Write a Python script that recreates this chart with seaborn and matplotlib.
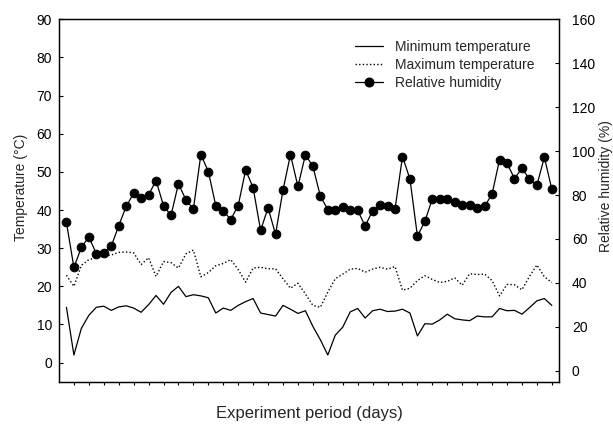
import numpy as np
import pandas as pd
import matplotlib
matplotlib.use("Agg")
import matplotlib.pyplot as plt
import seaborn as sns
from matplotlib.lines import Line2D

days = list(range(1, 67))

min_temp = [14.5, 2.0, 9.0, 12.4, 14.5, 14.8, 13.7, 14.6, 14.9, 14.3,
            13.2, 15.2, 17.6, 15.3, 18.4, 20.0, 17.3, 17.8, 17.5, 17.0,
            13.0, 14.3, 13.7, 15.0, 16.0, 16.8, 13.0, 12.6, 12.2, 15.0,
            14.0, 12.9, 13.6, 9.5, 6.0, 2.0, 7.2, 9.3, 13.3, 14.2,
            11.7, 13.6, 14.0, 13.4, 13.5, 14.0, 13.0, 7.0, 10.2, 10.1,
            11.2, 12.7, 11.5, 11.2, 11.0, 12.2, 12.0, 12.0, 14.2, 13.6,
            13.7, 12.7, 14.4, 16.2, 16.8, 15.0]

max_temp = [22.9, 20.0, 25.5, 27.0, 27.5, 27.9, 28.2, 28.9, 29.0, 28.8,
            25.7, 27.5, 22.6, 26.5, 26.2, 24.8, 28.5, 29.5, 22.5, 23.6,
            25.4, 26.0, 27.0, 24.4, 21.1, 24.8, 25.0, 24.6, 24.6, 22.0,
            19.5, 20.8, 18.0, 15.0, 14.5, 18.5, 22.0, 23.2, 24.5, 24.7,
            23.7, 24.5, 25.0, 24.5, 25.2, 19.0, 19.5, 21.5, 22.8, 21.8,
            21.0, 21.3, 22.2, 20.3, 23.3, 23.1, 23.2, 21.5, 17.5, 20.5,
            20.4, 19.1, 22.6, 25.6, 22.5, 21.0]

humidity = [67.5, 47.0, 56.2, 60.9, 53.3, 53.8, 56.7, 66.0, 74.8, 80.8,
            78.6, 80.1, 86.6, 75.1, 70.7, 85.1, 77.8, 73.6, 98.4, 90.7,
            75.1, 72.8, 68.8, 75.2, 91.4, 83.3, 63.9, 74.2, 62.1, 82.2,
            98.4, 83.9, 98.3, 93.1, 79.5, 73.4, 73.4, 74.5, 73.4, 73.0,
            65.9, 72.8, 75.4, 75.1, 73.6, 97.5, 87.3, 61.3, 68.0, 78.3,
            78.4, 78.0, 76.6, 75.6, 75.6, 73.9, 74.8, 80.5, 96.1, 94.4,
            87.5, 92.2, 87.2, 84.5, 97.2, 82.6]

temp_ticks = list(range(0, 91, 10))
hum_ticks = list(range(0, 161, 20))
day_ticks = list(range(2, 67, 2))

df = pd.DataFrame({"day": days, "tmin": min_temp, "tmax": max_temp, "rh": humidity})

sns.set_style("white")
plt.rcParams['font.family'] = ['Liberation Sans', 'DejaVu Sans']

fig = plt.figure(figsize=(6.13, 4.26), dpi=100)
ax = fig.add_axes([0.0962, 0.104, 0.8162, 0.8507])
ax2 = ax.twinx()

dot_style = (0, (1, 1.6))
sns.lineplot(data=df, x="day", y="tmin", ax=ax, color="black", linewidth=0.9, linestyle="-")
sns.lineplot(data=df, x="day", y="tmax", ax=ax, color="black", linewidth=1.0, linestyle=dot_style)
sns.lineplot(data=df, x="day", y="rh", ax=ax2, color="black", linewidth=0.9,
             marker="o", markersize=6.2, markeredgecolor="black", markerfacecolor="black")

ax.set_xlim(0, 67)
ax.set_ylim(-5, 90)
ax2.set_ylim(-5, 160)
ax.set_yticks(temp_ticks)
ax2.set_yticks(hum_ticks)
ax.set_xticks(day_ticks)
ax.set_xticklabels([])

for a in (ax, ax2):
    for s in a.spines.values():
        s.set_visible(True)
        s.set_color("black")
        s.set_linewidth(0.9)

ax.tick_params(axis="y", direction="in", length=3, width=0.8, labelsize=10, pad=5, colors="black")
ax.tick_params(axis="x", direction="out", length=2.5, width=0.8, bottom=True, colors="black")
ax2.tick_params(axis="y", direction="in", length=3, width=0.8, labelsize=10, pad=9, right=True, colors="black")

ax.set_xlabel("Experiment period (days)", fontsize=12)
ax.set_ylabel("Temperature (°C)", fontsize=10)
ax2.set_ylabel("Relative humidity (%)", fontsize=10)
ax.xaxis.set_label_coords(0.5, -0.068)
ax.yaxis.set_label_coords(-0.062, 0.537)
ax2.yaxis.set_label_coords(1.079, 0.54)

handles = [
    Line2D([], [], color="black", linewidth=0.9, linestyle="-"),
    Line2D([], [], color="black", linewidth=1.0, linestyle=dot_style),
    Line2D([], [], color="black", linewidth=0.9, marker="o", markersize=6.2),
]
labels = ["Minimum temperature", "Maximum temperature", "Relative humidity"]
ax2.legend(handles, labels, loc="upper left", bbox_to_anchor=(0.5917, 0.944), frameon=False,
           fontsize=10, handlelength=2.0, handletextpad=0.86, labelspacing=0.3,
           borderaxespad=0, borderpad=0)

fig.savefig("out.png", dpi=100)
